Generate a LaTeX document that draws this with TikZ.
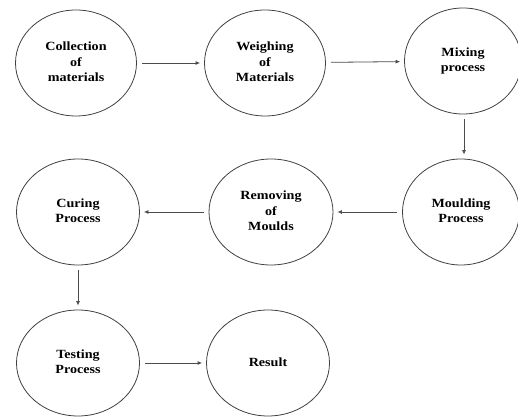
\documentclass[tikz,border=0pt]{standalone}
\usepackage{fontspec}
\setmainfont{Liberation Serif}
\usetikzlibrary{shapes.geometric,arrows.meta}
\newcommand{\stagetext}[1]{\scalebox{1.13}[1]{\renewcommand{\arraystretch}{1.08}\begin{tabular}{@{}c@{}}#1\end{tabular}}}
\begin{document}
\begin{tikzpicture}[x=1pt,y=1pt,
  stage/.style={ellipse, draw=black!75, line width=0.8pt, minimum width=121pt, minimum height=106pt,
    inner sep=0pt, align=center, font=\fontsize{12.5}{14.5}\selectfont\bfseries},
  flow/.style={draw=black!70, line width=0.8pt, -{Latex[length=4.5pt,width=4pt]}, shorten <=5pt, shorten >=4pt}]
\useasboundingbox (0,0) rectangle (518,419);
\node[stage] (col) at (76,356) {\stagetext{Collection\\of\\materials}};
\node[stage] (wei) at (265,356) {\stagetext{Weighing\\of\\Materials}};
\node[stage, minimum width=117pt] (mix) at (463,358) {\stagetext{Mixing\\process}};
\node[stage, minimum width=117pt] (mou) at (461,207) {\stagetext{Moulding\\Process}};
\node[stage, minimum width=124pt] (rem) at (271,207) {\stagetext{Removing\\of\\Moulds}};
\node[stage, minimum width=123pt] (cur) at (78,207) {\stagetext{Curing\\Process}};
\node[stage, minimum width=123pt] (tes) at (78,56) {\stagetext{Testing\\Process}};
\node[stage, minimum width=123pt] (res) at (268,56) {\stagetext{Result}};
\draw[flow] (col) -- (wei);
\draw[flow] (wei) -- (mix);
\draw[flow] (mix.south) ++(1,0) coordinate (m1) (m1) -- (m1 |- mou.north);
\draw[flow] (mou) -- (rem);
\draw[flow] (rem) -- (cur);
\draw[flow] (cur) -- (tes);
\draw[flow] (tes) -- (res);
\end{tikzpicture}
\end{document}
